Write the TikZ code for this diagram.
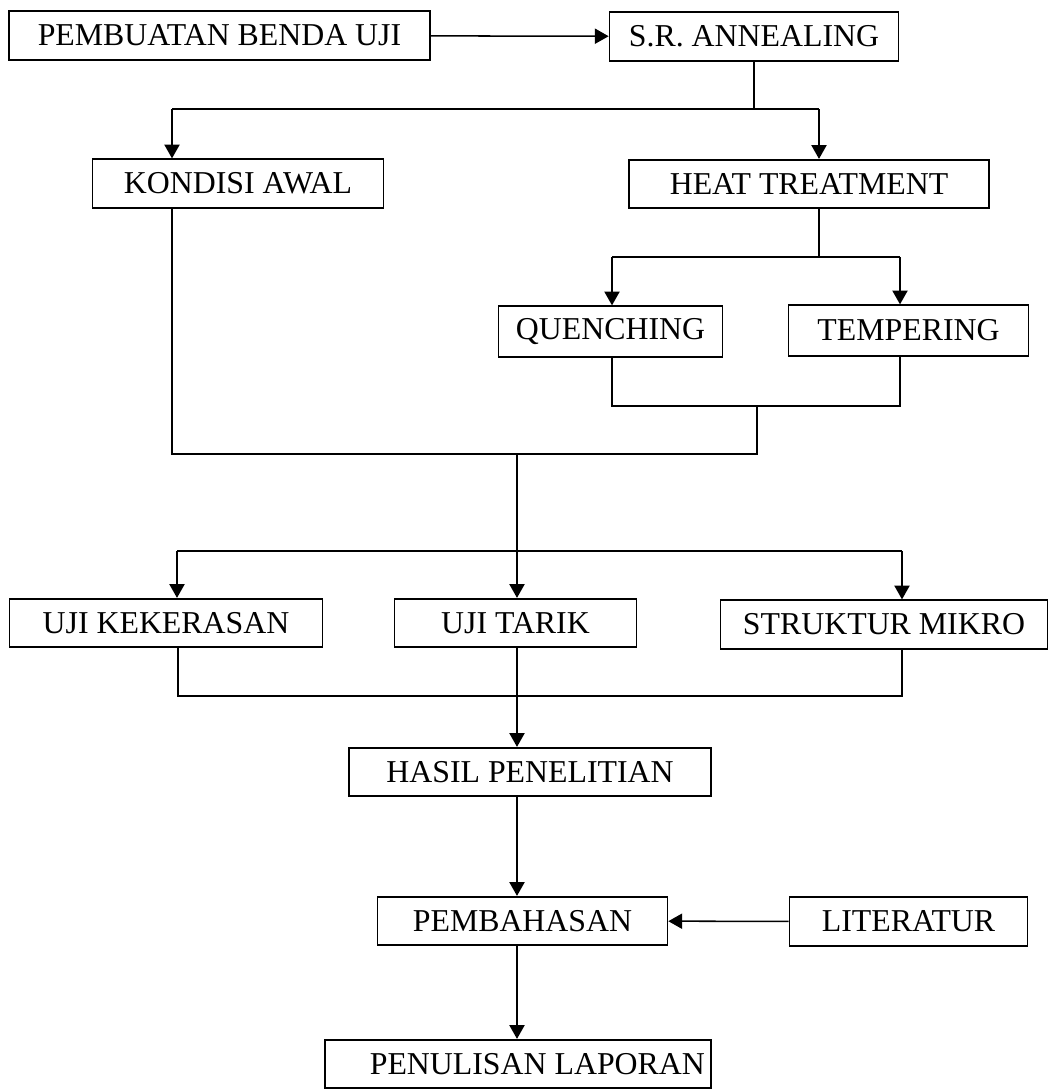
\documentclass[tikz,border=0pt]{standalone}
\usepackage{fontspec}
\setmainfont{Liberation Serif}
\usetikzlibrary{arrows.meta}

\begin{document}
\begin{tikzpicture}[x=0.254mm, y=-0.254mm, >={Triangle[length=10pt,width=11pt]}]
    \useasboundingbox (0,0) rectangle (1051,1089);
    \begin{scope}[every node/.style={rectangle, draw, line width=1.3pt, minimum height=35pt, inner sep=0pt, font=\fontsize{23}{27}\selectfont}]
        \node[minimum width=304.6pt] (1) at (219.5,35.5) {PEMBUATAN BENDA UJI};
        \node[minimum width=208.8pt] (2) at (754,36.5) {S.R. ANNEALING};
        \node[minimum width=210.2pt] (3) at (238,183.5) {KONDISI AWAL};
        \node[minimum width=260.6pt] (4) at (809,184) {HEAT TREATMENT};
        \node[minimum width=162pt, minimum height=36.5pt] (5) at (610.5,331.5) {QUENCHING};
        \node[minimum width=173.5pt, minimum height=36.5pt] (6) at (908.5,330.5) {TEMPERING};
        \node[minimum width=226.1pt] (7) at (166,623) {UJI KEKERASAN};
        \node[minimum width=175pt] (8) at (515.5,623) {UJI TARIK};
        \node[minimum width=236.2pt] (9) at (884,624.5) {STRUKTUR MIKRO};
        \node[minimum width=262.1pt] (10) at (530,772) {HASIL PENELITIAN};
        \node[minimum width=209.5pt] (11) at (522.5,921) {PEMBAHASAN};
        \node[minimum width=172.1pt] (12) at (908.5,921.5) {LITERATUR};
        \node[minimum width=279.4pt] (13) at (518,1064) {\hspace*{28pt}PENULISAN LAPORAN};
    \end{scope}
    % branch and join points
    \coordinate (k) at (172,109);
    \coordinate (h) at (819,109);
    \coordinate (q) at (612,257);
    \coordinate (t) at (900,257);
    \coordinate (qj) at (612,406);
    \coordinate (tj) at (900,406);
    \coordinate (j1) at (172,454);
    \coordinate (j2) at (757,454);
    \coordinate (tr) at (517,454);
    \coordinate (u1) at (177,551);
    \coordinate (u3) at (902,551);
    \coordinate (v1) at (178,696);
    \coordinate (v3) at (902,696);
    \begin{scope}[line width=1.1pt, every edge/.style={draw, line width=1.1pt}]
        \path [->] (1) edge (2);
        \draw (2) -- (2 |- k);
        \draw (k) -- (h);
        \draw [->] (k) -- (k |- 3.north);
        \draw [->] (h) -- (h |- 4.north);
        \draw (h |- 4.south) -- (h |- q);
        \draw (q) -- (t);
        \draw [->] (q) -- (q |- 5.north);
        \draw [->] (t) -- (t |- 6.north);
        \draw (q |- 5.south) -- (qj) -- (tj) -- (t |- 6.south);
        \draw (k |- 3.south) -- (j1) -- (j2) -- (j2 |- tj);
        \draw [->] (tr) -- (tr |- 8.north);
        \draw (u1) -- (u3);
        \draw [->] (u1) -- (u1 |- 7.north);
        \draw [->] (u3) -- (u3 |- 9.north);
        \draw (v1 |- 7.south) -- (v1) -- (v3) -- (v3 |- 9.south);
        \draw [->] (tr |- 8.south) -- (tr |- 10.north);
        \draw [->] (tr |- 10.south) -- (tr |- 11.north);
        \draw [->] (tr |- 11.south) -- (tr |- 13.north);
        \path [->] (12) edge (11);
    \end{scope}
\end{tikzpicture}
\end{document}
